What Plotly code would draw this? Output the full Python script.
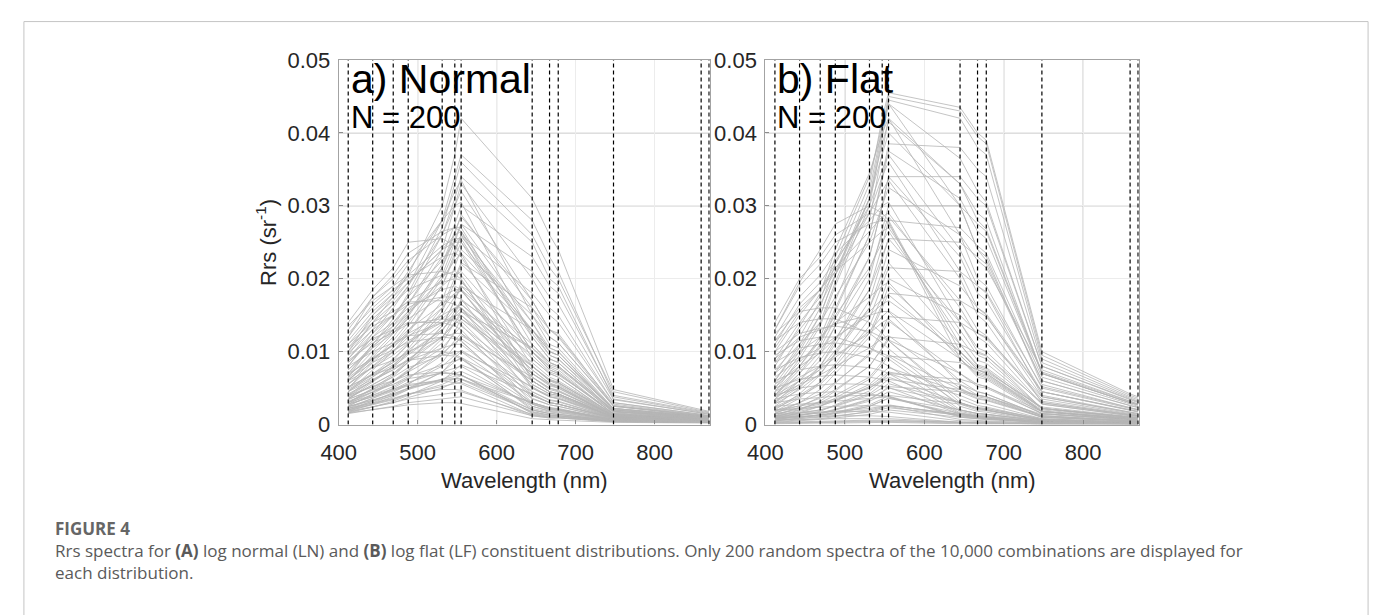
import plotly.graph_objects as go

W, H = 1375, 615

# MODIS band centres (nm) - spectra vertices and dashed reference lines
BANDS = [412, 443, 469, 488, 531, 547, 555, 645, 667, 678, 748, 859, 869]

# Rrs values in units of 1e-4 sr^-1, one row per spectrum, one column per band
RRS_NORMAL_E4 = [
    [95, 140, 175, 205, 300, 370, 420, 310, 260, 240, 48, 20, 18],
    [90, 130, 165, 190, 280, 340, 370, 280, 230, 210, 40, 18, 16],
    [80, 120, 150, 175, 260, 310, 340, 250, 200, 190, 35, 16, 14],
    [70, 110, 140, 165, 240, 300, 330, 200, 160, 150, 30, 14, 12],
    [60, 95, 125, 150, 220, 265, 285, 170, 130, 120, 25, 12, 10],
    [65, 100, 130, 155, 215, 255, 275, 140, 100, 95, 20, 11, 10],
    [50, 85, 110, 135, 200, 240, 260, 120, 90, 85, 18, 10, 9],
    [135, 170, 190, 205, 210, 205, 200, 50, 40, 38, 10, 6, 6],
    [125, 160, 185, 200, 230, 235, 230, 80, 60, 55, 12, 7, 6],
    [110, 150, 175, 195, 240, 250, 250, 100, 75, 70, 14, 8, 7],
    [140, 185, 215, 250, 255, 245, 235, 60, 45, 42, 12, 7, 6],
    [120, 175, 205, 235, 265, 270, 265, 90, 70, 65, 13, 8, 7],
    [100, 140, 165, 185, 205, 210, 205, 70, 55, 52, 11, 7, 6],
    [85, 120, 140, 160, 185, 190, 185, 60, 45, 42, 10, 6, 5],
    [75, 105, 125, 145, 175, 185, 185, 65, 50, 46, 10, 6, 5],
    [60, 90, 110, 125, 150, 160, 160, 55, 42, 40, 9, 6, 5],
    [55, 80, 100, 120, 160, 180, 190, 90, 70, 65, 12, 7, 6],
    [45, 70, 90, 110, 150, 175, 185, 100, 80, 75, 14, 8, 7],
    [40, 60, 80, 95, 130, 150, 160, 80, 62, 58, 12, 7, 6],
    [35, 55, 70, 85, 120, 140, 150, 70, 55, 50, 11, 7, 6],
    [30, 45, 60, 75, 105, 125, 135, 60, 45, 42, 10, 6, 5],
    [50, 70, 85, 100, 120, 125, 125, 40, 30, 28, 8, 5, 5],
    [45, 62, 75, 88, 105, 110, 110, 35, 27, 25, 7, 5, 4],
    [38, 52, 65, 78, 95, 100, 100, 30, 23, 22, 7, 5, 4],
    [32, 45, 55, 66, 82, 88, 90, 28, 20, 19, 6, 4, 4],
    [28, 38, 48, 58, 72, 78, 80, 25, 18, 17, 6, 4, 4],
    [25, 33, 42, 50, 62, 66, 68, 20, 15, 14, 5, 4, 3],
    [20, 28, 35, 42, 52, 56, 58, 18, 13, 12, 5, 3, 3],
    [18, 24, 30, 35, 42, 44, 45, 14, 10, 10, 4, 3, 3],
    [15, 20, 25, 30, 35, 37, 38, 12, 9, 9, 4, 3, 3],
    [16, 20, 24, 27, 30, 30, 29, 8, 6, 6, 3, 2, 2],
    [22, 30, 36, 42, 48, 48, 47, 12, 9, 9, 4, 3, 3],
    [30, 40, 48, 55, 60, 58, 56, 13, 10, 10, 4, 3, 3],
    [40, 52, 60, 68, 72, 70, 68, 15, 11, 11, 5, 3, 3],
    [60, 78, 88, 98, 100, 96, 92, 20, 15, 14, 6, 4, 4],
    [80, 100, 112, 122, 125, 120, 115, 25, 19, 18, 7, 4, 4],
    [95, 118, 130, 140, 140, 135, 130, 30, 22, 21, 7, 5, 4],
    [110, 140, 155, 168, 170, 165, 160, 40, 30, 28, 9, 5, 5],
    [70, 105, 135, 165, 230, 275, 300, 230, 190, 180, 38, 17, 15],
    [55, 88, 115, 140, 205, 250, 275, 210, 175, 165, 34, 16, 14],
    [45, 75, 100, 125, 190, 235, 260, 180, 150, 140, 30, 14, 12],
    [40, 65, 88, 110, 170, 215, 240, 150, 120, 112, 26, 13, 11],
    [35, 58, 78, 98, 155, 195, 220, 130, 100, 95, 22, 12, 10],
    [30, 50, 68, 85, 135, 170, 195, 110, 85, 80, 20, 11, 9],
    [25, 42, 58, 72, 118, 150, 172, 95, 72, 68, 18, 10, 9],
    [22, 36, 50, 62, 100, 128, 145, 80, 60, 57, 15, 9, 8],
    [20, 32, 44, 55, 85, 108, 122, 65, 48, 45, 13, 8, 7],
    [18, 28, 38, 48, 72, 90, 100, 52, 38, 36, 11, 7, 6],
    [16, 24, 32, 40, 60, 74, 82, 42, 30, 28, 9, 6, 5],
    [60, 92, 120, 148, 215, 262, 288, 160, 120, 112, 25, 12, 10],
    [50, 80, 105, 128, 190, 230, 250, 130, 95, 90, 22, 11, 10],
    [120, 165, 190, 220, 280, 300, 305, 120, 90, 85, 18, 9, 8],
    [100, 150, 180, 210, 280, 320, 335, 150, 110, 105, 22, 11, 10],
    [80, 125, 160, 190, 260, 300, 320, 170, 130, 125, 26, 12, 11],
    [65, 110, 145, 180, 270, 330, 360, 260, 215, 200, 45, 19, 17],
    [130, 175, 200, 225, 260, 270, 270, 110, 85, 80, 16, 9, 8],
    [105, 135, 150, 165, 175, 175, 172, 50, 38, 36, 9, 6, 5],
    [26, 40, 52, 64, 95, 115, 125, 60, 45, 42, 10, 6, 5],
    [24, 36, 46, 56, 80, 95, 102, 45, 33, 31, 9, 5, 5],
    [20, 30, 40, 50, 72, 86, 92, 40, 30, 28, 8, 5, 4],
    [34, 48, 60, 72, 98, 112, 118, 50, 38, 35, 9, 6, 5],
    [42, 60, 75, 90, 120, 138, 145, 70, 53, 50, 12, 7, 6],
    [48, 68, 85, 102, 138, 158, 165, 85, 65, 60, 14, 8, 7],
    [56, 78, 95, 112, 145, 160, 165, 75, 56, 52, 12, 7, 6],
    [62, 85, 100, 115, 140, 150, 150, 55, 42, 40, 10, 6, 5],
    [68, 92, 108, 122, 140, 145, 142, 45, 34, 32, 9, 5, 5],
    [36, 54, 70, 88, 128, 155, 170, 105, 82, 78, 17, 9, 8],
    [28, 44, 58, 74, 112, 140, 155, 105, 85, 80, 18, 10, 9],
    [30, 48, 66, 86, 135, 170, 190, 130, 105, 100, 22, 11, 10],
    [38, 60, 80, 104, 160, 200, 222, 160, 130, 122, 28, 13, 12],
    [85, 115, 135, 155, 190, 205, 210, 100, 78, 72, 15, 8, 7],
    [75, 108, 130, 152, 200, 225, 235, 130, 100, 95, 20, 10, 9],
    [90, 125, 150, 175, 225, 250, 258, 140, 105, 100, 20, 10, 9],
    [105, 145, 170, 195, 240, 260, 265, 125, 95, 90, 18, 9, 8],
    [115, 155, 180, 205, 245, 255, 255, 100, 75, 70, 15, 8, 7],
    [22, 32, 40, 48, 62, 70, 73, 28, 21, 20, 6, 4, 4],
    [19, 27, 34, 41, 55, 63, 67, 30, 23, 21, 6, 4, 4],
    [17, 24, 30, 37, 50, 58, 62, 30, 23, 21, 6, 4, 3],
    [24, 34, 42, 50, 60, 63, 63, 20, 15, 14, 5, 3, 3],
    [28, 38, 46, 53, 62, 63, 62, 17, 13, 12, 5, 3, 3],
    [35, 47, 55, 63, 70, 70, 68, 16, 12, 12, 5, 3, 3],
    [52, 68, 78, 88, 95, 94, 90, 22, 17, 16, 6, 4, 4],
    [70, 90, 102, 113, 120, 118, 114, 28, 21, 20, 7, 4, 4],
    [88, 112, 126, 138, 145, 142, 137, 36, 27, 25, 8, 5, 4],
    [98, 130, 150, 170, 195, 200, 198, 65, 50, 47, 11, 7, 6],
    [64, 90, 110, 130, 165, 180, 183, 80, 61, 57, 13, 7, 6],
    [46, 66, 82, 98, 130, 148, 155, 75, 57, 53, 12, 7, 6],
]

RRS_FLAT_E4 = [
    [60, 110, 160, 220, 330, 420, 455, 435, 400, 390, 100, 42, 38],
    [55, 100, 150, 205, 320, 410, 450, 430, 395, 385, 95, 40, 36],
    [50, 95, 140, 195, 310, 400, 445, 420, 380, 370, 90, 38, 34],
    [45, 90, 135, 190, 300, 390, 440, 365, 320, 305, 80, 34, 30],
    [40, 80, 120, 170, 280, 370, 420, 330, 290, 280, 70, 30, 27],
    [70, 120, 170, 230, 340, 410, 440, 300, 240, 225, 60, 26, 24],
    [80, 135, 180, 240, 345, 400, 420, 260, 200, 190, 50, 22, 20],
    [35, 70, 110, 155, 260, 340, 385, 380, 350, 340, 85, 36, 32],
    [30, 60, 95, 135, 230, 300, 340, 340, 310, 300, 80, 35, 31],
    [25, 50, 80, 115, 200, 265, 300, 300, 275, 265, 70, 30, 27],
    [20, 42, 68, 98, 170, 225, 255, 250, 230, 220, 60, 26, 23],
    [18, 36, 58, 84, 145, 190, 215, 210, 190, 182, 52, 23, 20],
    [15, 30, 48, 70, 120, 160, 180, 170, 155, 148, 45, 20, 18],
    [12, 24, 38, 56, 98, 130, 148, 140, 125, 120, 38, 17, 15],
    [10, 20, 32, 46, 80, 105, 120, 110, 98, 94, 30, 14, 12],
    [8, 16, 25, 36, 62, 82, 94, 85, 75, 72, 24, 11, 10],
    [6, 12, 18, 27, 46, 60, 70, 62, 55, 52, 18, 9, 8],
    [5, 9, 14, 20, 34, 45, 52, 45, 40, 38, 14, 7, 6],
    [120, 175, 205, 235, 280, 300, 305, 140, 100, 95, 22, 10, 9],
    [130, 190, 220, 250, 275, 280, 278, 90, 65, 62, 15, 7, 6],
    [110, 165, 195, 225, 290, 320, 335, 200, 150, 140, 30, 13, 12],
    [100, 150, 185, 220, 300, 350, 370, 240, 190, 180, 40, 17, 15],
    [90, 140, 175, 210, 310, 370, 400, 300, 240, 230, 55, 23, 21],
    [125, 155, 160, 160, 140, 125, 115, 30, 22, 20, 6, 3, 3],
    [115, 140, 145, 145, 125, 112, 104, 25, 18, 17, 5, 3, 3],
    [95, 115, 120, 120, 105, 95, 90, 20, 15, 14, 5, 3, 3],
    [75, 92, 98, 100, 92, 85, 80, 18, 13, 12, 4, 2, 2],
    [60, 75, 80, 82, 78, 74, 70, 16, 12, 11, 4, 2, 2],
    [20, 25, 30, 35, 50, 60, 65, 30, 22, 20, 6, 3, 3],
    [18, 22, 28, 33, 50, 62, 70, 40, 30, 28, 8, 4, 3],
    [15, 20, 26, 32, 52, 65, 72, 55, 45, 42, 12, 5, 5],
    [12, 16, 20, 25, 40, 50, 56, 30, 22, 20, 6, 3, 3],
    [10, 13, 16, 20, 32, 40, 45, 20, 15, 14, 5, 2, 2],
    [8, 10, 13, 16, 25, 32, 36, 15, 11, 10, 4, 2, 2],
    [25, 28, 30, 32, 36, 38, 38, 12, 9, 8, 3, 2, 2],
    [30, 35, 37, 39, 40, 40, 39, 11, 8, 8, 3, 2, 2],
    [20, 22, 24, 25, 26, 26, 25, 7, 5, 5, 2, 1, 1],
    [15, 16, 17, 18, 18, 18, 17, 5, 4, 4, 2, 1, 1],
    [10, 11, 12, 12, 12, 12, 11, 3, 3, 3, 1, 1, 1],
    [6, 7, 7, 8, 8, 8, 8, 3, 2, 2, 1, 1, 1],
    [3, 4, 4, 5, 6, 6, 6, 3, 2, 2, 1, 1, 1],
    [2, 2, 3, 3, 4, 4, 4, 2, 2, 2, 1, 1, 1],
    [40, 70, 100, 135, 210, 260, 285, 170, 130, 122, 32, 14, 12],
    [35, 60, 88, 118, 185, 230, 255, 140, 105, 100, 28, 12, 11],
    [30, 52, 76, 102, 160, 200, 222, 110, 82, 78, 22, 10, 9],
    [50, 85, 115, 150, 215, 250, 265, 120, 88, 84, 22, 10, 9],
    [45, 65, 80, 95, 125, 140, 145, 60, 45, 42, 12, 6, 5],
    [38, 55, 68, 80, 105, 118, 122, 50, 38, 36, 10, 5, 4],
    [130, 195, 240, 275, 300, 290, 280, 100, 75, 70, 18, 8, 7],
    [90, 120, 130, 138, 150, 155, 155, 55, 40, 38, 10, 5, 4],
    [75, 110, 140, 175, 250, 300, 325, 260, 225, 215, 75, 32, 28],
    [40, 75, 105, 145, 230, 300, 340, 230, 180, 170, 45, 20, 18],
    [22, 38, 55, 75, 125, 165, 190, 100, 75, 70, 20, 9, 8],
    [18, 30, 42, 58, 95, 125, 142, 70, 52, 50, 15, 7, 6],
    [14, 22, 30, 40, 65, 85, 96, 48, 36, 34, 11, 5, 5],
    [5, 8, 11, 15, 25, 32, 36, 20, 15, 14, 5, 2, 2],
    [4, 6, 8, 11, 18, 23, 26, 14, 10, 9, 3, 2, 1],
    [3, 5, 7, 9, 14, 18, 20, 10, 8, 7, 3, 1, 1],
    [8, 12, 16, 21, 35, 45, 50, 30, 23, 22, 7, 3, 3],
    [12, 18, 25, 33, 55, 70, 78, 45, 35, 33, 10, 5, 4],
    [16, 26, 36, 48, 80, 104, 116, 70, 55, 52, 15, 7, 6],
    [24, 40, 58, 80, 135, 176, 200, 150, 125, 118, 35, 15, 13],
    [28, 48, 70, 96, 160, 210, 240, 190, 160, 152, 45, 19, 17],
    [32, 55, 80, 110, 185, 245, 280, 270, 245, 235, 65, 28, 25],
    [45, 80, 115, 160, 260, 335, 375, 310, 265, 255, 70, 30, 27],
    [60, 105, 150, 205, 310, 385, 415, 330, 280, 268, 72, 31, 28],
    [85, 130, 165, 205, 290, 340, 360, 210, 160, 150, 38, 16, 14],
    [105, 155, 185, 215, 265, 285, 290, 160, 120, 112, 28, 12, 11],
    [70, 100, 120, 140, 175, 190, 195, 90, 68, 64, 17, 8, 7],
    [55, 80, 98, 118, 155, 172, 178, 95, 72, 68, 18, 8, 7],
    [40, 60, 75, 92, 128, 148, 156, 90, 70, 66, 18, 8, 7],
    [100, 125, 132, 135, 128, 120, 115, 35, 26, 24, 7, 3, 3],
    [85, 105, 110, 112, 105, 98, 94, 28, 20, 19, 6, 3, 3],
    [50, 62, 66, 68, 65, 62, 60, 15, 11, 10, 3, 2, 2],
    [40, 50, 54, 56, 55, 53, 51, 14, 10, 10, 3, 2, 2],
    [35, 42, 44, 45, 42, 40, 38, 10, 8, 7, 3, 1, 1],
    [12, 14, 16, 18, 22, 25, 27, 12, 9, 8, 3, 1, 1],
    [9, 11, 13, 15, 20, 24, 26, 14, 11, 10, 3, 2, 1],
    [6, 8, 10, 12, 17, 21, 23, 13, 10, 9, 3, 1, 1],
    [1, 2, 2, 2, 3, 3, 3, 1, 1, 1, 1, 0, 0],
    [2, 3, 3, 4, 5, 5, 5, 3, 2, 2, 1, 1, 1],
    [7, 10, 13, 17, 27, 35, 40, 28, 23, 22, 8, 3, 3],
    [10, 15, 20, 26, 42, 55, 62, 48, 40, 38, 12, 5, 5],
    [65, 90, 105, 120, 150, 165, 170, 100, 78, 74, 22, 10, 9],
    [115, 160, 185, 210, 250, 265, 270, 130, 95, 90, 22, 10, 9],
    [140, 200, 230, 260, 290, 285, 275, 110, 80, 76, 18, 8, 7],
]

X_TICKS = [400, 500, 600, 700, 800]
Y_TICKS = [0, 0.01, 0.02, 0.03, 0.04, 0.05]
Y_TICK_TEXT = ["0", "0.01", "0.02", "0.03", "0.04", "0.05"]
PANEL_LABELS = ["a) Normal", "b) Flat"]
N_LABEL = "N = 200"
DARK_GRID_Y = [0.03, 0.04]
DARK_GRID_X = [[500, 600], [500, 700, 800]]

FONT = "Liberation Sans, Arial, sans-serif"
TXT = "#262626"


def px(x):
    return x / W


def py(y):
    return 1 - y / H


fig = go.Figure()

panels = [("x", "y", RRS_NORMAL_E4), ("x2", "y2", RRS_FLAT_E4)]
for xa, ya, data in panels:
    xs, ys = [], []
    for row in data:
        xs += BANDS + [None]
        ys += [v * 1e-4 for v in row] + [None]
    fig.add_trace(go.Scatter(x=xs, y=ys, mode="lines", xaxis=xa, yaxis=ya,
                             line=dict(color="#b5b5b5", width=0.8),
                             hoverinfo="skip", showlegend=False))
    vx, vy = [], []
    for b in BANDS:
        vx += [b, b, None]
        vy += [0, 0.05, None]
    fig.add_trace(go.Scatter(x=vx, y=vy, mode="lines", xaxis=xa, yaxis=ya,
                             line=dict(color="#000000", width=1.2, dash="4px,3px"),
                             hoverinfo="skip", showlegend=False))

x_domains = [[px(325), px(701)], [px(757.3), px(1135.7)]]
y_domain = [py(430), py(50)]

axis_common = dict(showgrid=True, gridcolor="#ececec", gridwidth=1,
                   showline=True, linecolor="#a3a3a3", linewidth=1.2, mirror=True,
                   ticks="inside", ticklen=4, tickcolor="#8c8c8c",
                   zeroline=False, tickfont=dict(family=FONT, size=22, color=TXT))

fig.update_layout(
    width=W, height=H, margin=dict(l=0, r=0, t=0, b=0),
    paper_bgcolor="white", plot_bgcolor="white", showlegend=False,
    xaxis=dict(domain=x_domains[0], range=[400, 870], tickvals=X_TICKS, anchor="y",
               ticklabelstandoff=8, **axis_common),
    yaxis=dict(domain=y_domain, range=[0, 0.05], tickvals=Y_TICKS, ticktext=Y_TICK_TEXT, anchor="x",
               ticklabelstandoff=3, **axis_common),
    xaxis2=dict(domain=x_domains[1], range=[400, 870], tickvals=X_TICKS, anchor="y2",
                ticklabelstandoff=8, **axis_common),
    yaxis2=dict(domain=y_domain, range=[0, 0.05], tickvals=Y_TICKS, ticktext=Y_TICK_TEXT, anchor="x2",
                ticklabelstandoff=3, **axis_common),
)

shapes = []
for i, (xa, ya) in enumerate([("x", "y"), ("x2", "y2")]):
    for gy in DARK_GRID_Y:
        shapes.append(dict(type="line", xref=xa, yref=ya, x0=400, x1=870, y0=gy, y1=gy,
                           line=dict(color="#a8a8a8", width=1), layer="below"))
    for gx in DARK_GRID_X[i]:
        shapes.append(dict(type="line", xref=xa, yref=ya, x0=gx, x1=gx, y0=0, y1=0.05,
                           line=dict(color="#a8a8a8", width=1), layer="below"))
# card border
shapes.append(dict(type="rect", xref="paper", yref="paper", x0=px(6), x1=px(1368),
                   y0=py(640), y1=py(10), line=dict(color="#c4c4c4", width=1)))
fig.update_layout(shapes=shapes)

ann = []
for i, lab in enumerate(PANEL_LABELS):
    x0 = [335, 767][i]
    ann.append(dict(text=lab, x=px(x0), y=py(70), xref="paper", yref="paper",
                    xanchor="left", yanchor="middle", showarrow=False,
                    font=dict(family=FONT, size=41, color="#000000")))
    ann.append(dict(text=N_LABEL, x=px(x0), y=py(110), xref="paper", yref="paper",
                    xanchor="left", yanchor="middle", showarrow=False,
                    font=dict(family=FONT, size=31, color="#000000")))
    ann.append(dict(text="Wavelength (nm)", x=px([513, 946.5][i]), y=py(488),
                    xref="paper", yref="paper", xanchor="center", yanchor="middle",
                    showarrow=False, font=dict(family=FONT, size=22, color=TXT)))
ann.append(dict(text="Rrs (sr<sup>-1</sup>)", x=px(252), y=py(240), xref="paper", yref="paper",
                xanchor="center", yanchor="middle", textangle=-90, showarrow=False,
                font=dict(family=FONT, size=22, color=TXT)))
ann.append(dict(text="<b>FIGURE 4</b>", x=px(35), y=py(538), xref="paper", yref="paper",
                xanchor="left", yanchor="middle", showarrow=False,
                font=dict(family="Open Sans, sans-serif", size=17, color="#666666")))
ann.append(dict(text="Rrs spectra for <b>(A)</b> log normal (LN) and <b>(B)</b> log flat (LF) constituent distributions. "
                     "Only 200 random spectra of the 10,000 combinations are displayed for",
                x=px(35), y=py(561), xref="paper", yref="paper", xanchor="left", yanchor="middle",
                showarrow=False, font=dict(family="Open Sans, sans-serif", size=17, color="#5a5a5a")))
ann.append(dict(text="each distribution.", x=px(35), y=py(584), xref="paper", yref="paper",
                xanchor="left", yanchor="middle", showarrow=False,
                font=dict(family="Open Sans, sans-serif", size=17, color="#5a5a5a")))
fig.update_layout(annotations=ann)

fig.write_html("out.html")
